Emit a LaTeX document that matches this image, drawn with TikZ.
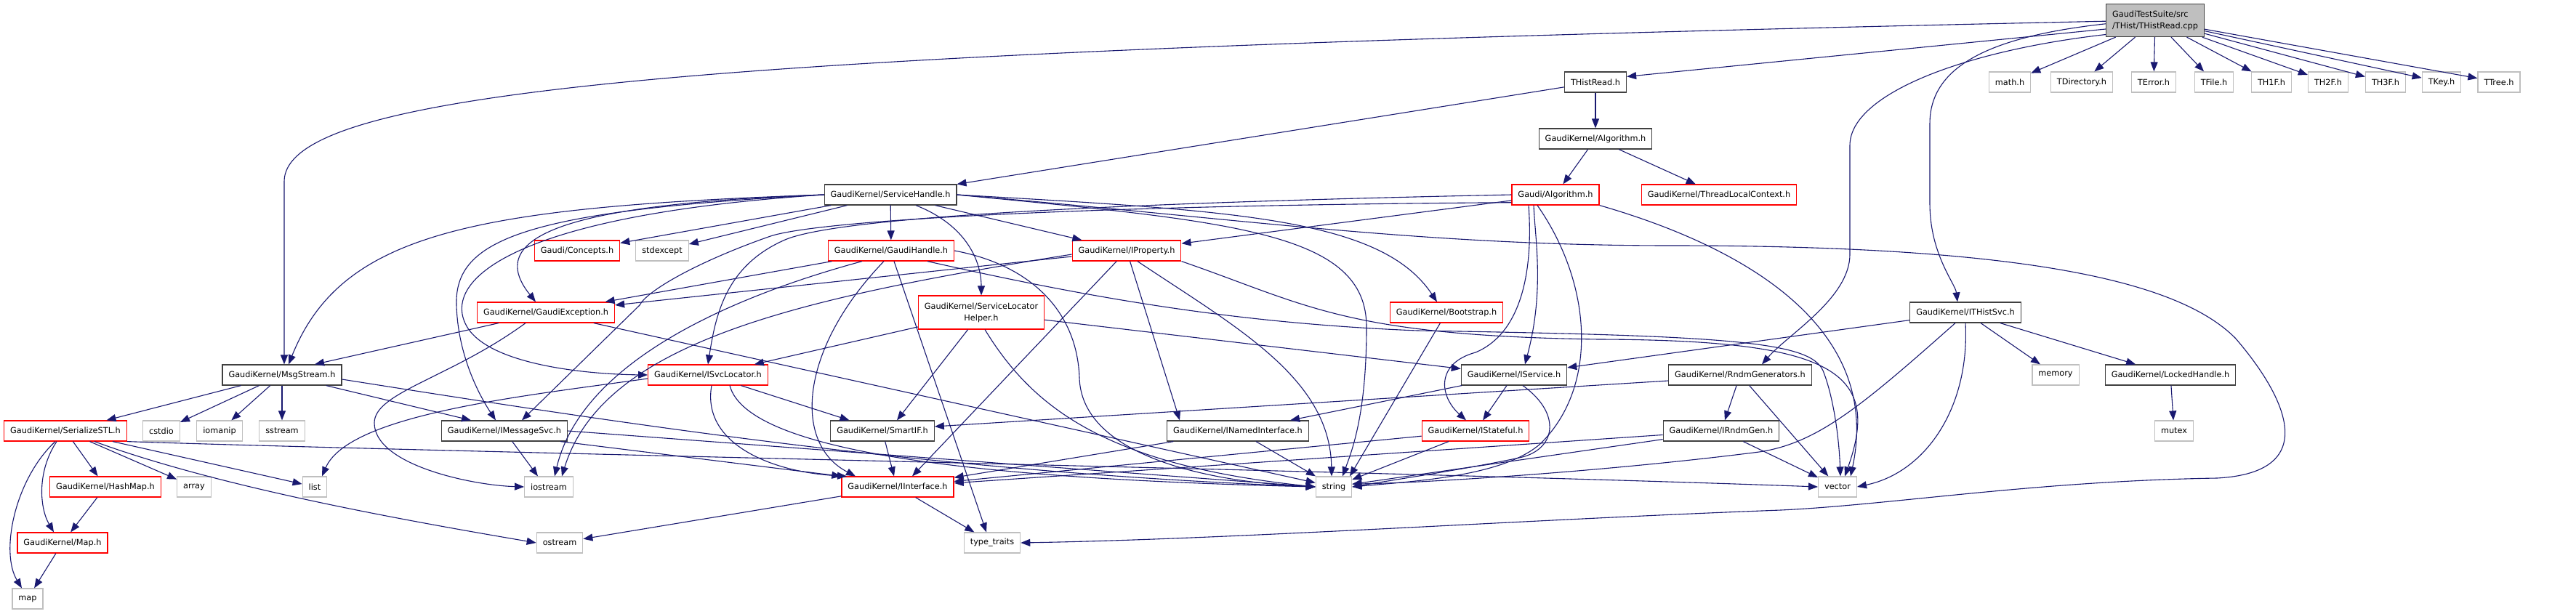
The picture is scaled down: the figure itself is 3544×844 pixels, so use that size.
\documentclass[tikz,border=0pt]{standalone}
\usepackage{fontspec}
\setmainfont{DejaVu Sans}
\usetikzlibrary{arrows.meta}
\definecolor{depblue}{HTML}{191970}
\definecolor{redline}{HTML}{FF0000}
\definecolor{greyline}{HTML}{BFBFBF}
\definecolor{darkline}{HTML}{404040}

\begin{document}
\begin{tikzpicture}[
  x=1pt, y=-1pt,
  box/.style={draw, line width=1.2pt, minimum height=28pt, inner xsep=8.5pt,
    font=\fontsize{11.3pt}{16pt}\selectfont},
  docbox/.style={box, draw=darkline},
  redbox/.style={box, draw=redline},
  sysbox/.style={box, draw=greyline},
  dep/.style={-{Triangle[length=13pt,width=10pt]}, depblue, line width=1.1pt}
]
\path[fill=white, use as bounding box] (0,0) rectangle (3544,844);

\node[docbox, fill=greyline, align=left, minimum height=45pt] (root) at (2965,28) {GaudiTestSuite/src\\/THist/THistRead.cpp};

\node[docbox] (thread) at (2195,113) {THistRead.h};
\node[sysbox] (math) at (2765,113) {math.h};
\node[sysbox] (tdir) at (2864,113) {TDirectory.h};
\node[sysbox] (terr) at (2963,113) {TError.h};
\node[sysbox] (tfile) at (3046,113) {TFile.h};
\node[sysbox] (th1f) at (3125,113) {TH1F.h};
\node[sysbox] (th2f) at (3203,113) {TH2F.h};
\node[sysbox] (th3f) at (3282,113) {TH3F.h};
\node[sysbox] (tkey) at (3359,113) {TKey.h};
\node[sysbox] (ttree) at (3438,113) {TTree.h};

\node[docbox] (kalg) at (2195,191) {GaudiKernel/Algorithm.h};

\node[docbox] (svch) at (1225,268) {GaudiKernel/ServiceHandle.h};
\node[redbox] (galg) at (2140,268) {Gaudi/Algorithm.h};
\node[redbox] (tlc) at (2365,268) {GaudiKernel/ThreadLocalContext.h};

\node[redbox] (concepts) at (794,345) {Gaudi/Concepts.h};
\node[sysbox] (stdexc) at (911,345) {stdexcept};
\node[redbox] (ghandle) at (1226,345) {GaudiKernel/GaudiHandle.h};
\node[redbox] (iprop) at (1550,345) {GaudiKernel/IProperty.h};

\node[redbox] (gexc) at (751,430) {GaudiKernel/GaudiException.h};
\node[redbox, align=center, minimum height=46pt] (slh) at (1350,430) {GaudiKernel/ServiceLocator\\Helper.h};
\node[redbox] (boot) at (1990,430) {GaudiKernel/Bootstrap.h};
\node[docbox] (ithist) at (2704,430) {GaudiKernel/ITHistSvc.h};

\node[docbox] (msg) at (388,516) {GaudiKernel/MsgStream.h};
\node[redbox] (isvc) at (974,516) {GaudiKernel/ISvcLocator.h};
\node[docbox] (iserv) at (2083,516) {GaudiKernel/IService.h};
\node[docbox] (rndm) at (2394,516) {GaudiKernel/RndmGenerators.h};
\node[sysbox] (memory) at (2828,516) {memory};
\node[docbox] (locked) at (2986,516) {GaudiKernel/LockedHandle.h};

\node[redbox] (serstl) at (90,593) {GaudiKernel/SerializeSTL.h};
\node[sysbox] (cstdio) at (222,593) {cstdio};
\node[sysbox] (iomanip) at (302,593) {iomanip};
\node[sysbox] (sstream) at (388,593) {sstream};
\node[docbox] (imsg) at (694,593) {GaudiKernel/IMessageSvc.h};
\node[docbox] (smartif) at (1214,593) {GaudiKernel/SmartIF.h};
\node[docbox] (inamed) at (1703,593) {GaudiKernel/INamedInterface.h};
\node[redbox] (istate) at (2030,593) {GaudiKernel/IStateful.h};
\node[docbox] (irndm) at (2368,593) {GaudiKernel/IRndmGen.h};
\node[sysbox] (mutex) at (2991,593) {mutex};

\node[redbox] (hashmap) at (145,670) {GaudiKernel/HashMap.h};
\node[sysbox] (array) at (267,670) {array};
\node[sysbox] (list) at (433,670) {list};
\node[sysbox] (ios) at (755,670) {iostream};
\node[redbox] (iint) at (1235,670) {GaudiKernel/IInterface.h};
\node[sysbox] (str) at (1835,670) {string};
\node[sysbox] (vec) at (2528,670) {vector};

\node[redbox] (maph) at (86,747) {GaudiKernel/Map.h};
\node[sysbox] (ostr) at (770,747) {ostream};
\node[sysbox] (tt) at (1365,747) {type\_traits};

\node[sysbox] (map) at (38,824) {map};

\draw[dep] (root.181) .. controls (1000,70) and (391,120) .. (391,250) -- ([xshift=3pt]msg.north);
\draw[dep] (root.190) -- (thread.10);
\draw[dep] (root.184) .. controls (2740,50) and (2655,90) .. (2655,170) -- (2655,280) .. controls (2655,350) and (2690,390) .. ([xshift=-11pt]ithist.north);
\draw[dep] (root.196) .. controls (2700,70) and (2545,130) .. (2545,200) -- (2545,350) .. controls (2545,410) and (2460,460) .. ([xshift=30pt]rndm.north);
\draw[dep] (root) -- (math);
\draw[dep] (root) -- (tdir);
\draw[dep] (root) -- (terr);
\draw[dep] (root) -- (tfile);
\draw[dep] (root) -- (th1f);
\draw[dep] (root) -- (th2f);
\draw[dep] (root) -- (th3f);
\draw[dep] (root) -- (tkey);
\draw[dep] (root) -- (ttree);

\draw[dep] (thread) -- (kalg);
\draw[dep] (thread) -- (svch);
\draw[dep] (kalg) -- (galg);
\draw[dep] (kalg) -- (tlc);

\draw[dep] (svch) -- (concepts);
\draw[dep] (svch) -- (stdexc);
\draw[dep] (svch) -- (ghandle);
\draw[dep] (svch) -- (iprop);
\draw[dep] ([xshift=35pt]svch.south) .. controls (1330,310) and (1350,360) .. (slh.north);
\draw[dep] (svch.west) .. controls (800,280) and (660,320) .. ([xshift=-14pt]gexc.north);
\draw[dep] (svch.west) .. controls (650,285) and (470,320) .. ([xshift=9pt]msg.north);
\draw[dep] (svch.west) .. controls (720,290) and (625,330) .. (628,420) .. controls (630,490) and (660,545) .. ([xshift=-12pt]imsg.north);
\draw[dep] (svch.west) .. controls (720,295) and (610,380) .. (640,445) .. controls (665,500) and (800,515) .. (isvc.west);
\draw[dep] (svch.east) .. controls (1700,290) and (1900,300) .. ([xshift=-13pt]boot.north);
\draw[dep] (svch.east) .. controls (1700,305) and (1880,320) .. (1880,450) .. controls (1880,570) and (1860,620) .. ([xshift=12pt]str.north);
\draw[dep] (svch.east) .. controls (1700,300) and (1950,338) .. (2300,338) .. controls (2800,338) and (3000,390) .. (3075,465) .. controls (3140,540) and (3200,650) .. (3050,658) .. controls (2800,662) and (2600,695) .. (2450,702) .. controls (2100,715) and (1700,742) .. (tt.east);

\draw[dep] (ghandle) -- (gexc);
\draw[dep] ([xshift=-40pt]ghandle.south) .. controls (1000,410) and (800,500) .. ([xshift=8pt]ios.north);
\draw[dep] ([xshift=-10pt]ghandle.south) .. controls (1100,480) and (1090,610) .. ([xshift=-58pt]iint.north);
\draw[dep] ([xshift=4pt]ghandle.south) -- ([xshift=-8pt]tt.north);
\draw[dep] (ghandle.east) .. controls (1420,365) and (1482,430) .. (1485,520) .. controls (1488,620) and (1640,662) .. (str.west);
\draw[dep] ([xshift=50pt]ghandle.south) .. controls (1500,410) and (1700,445) .. (1950,455) .. controls (2380,462) and (2490,470) .. (2508,510) .. controls (2522,545) and (2530,600) .. ([xshift=4pt]vec.north);

\draw[dep] (iprop) -- (gexc);
\draw[dep] ([yshift=-5pt]iprop.west) .. controls (1100,410) and (830,470) .. ([xshift=18pt]ios.north);
\draw[dep] (iprop) -- ([xshift=20pt]iint.north);
\draw[dep] (iprop) -- ([xshift=-80pt]inamed.north);
\draw[dep] ([xshift=15pt]iprop.south) .. controls (1700,450) and (1830,520) .. ([xshift=-3pt]str.north);
\draw[dep] (iprop.south east) .. controls (1800,420) and (1850,462) .. (2200,467) .. controls (2520,468) and (2590,510) .. ([xshift=10pt]vec.north);

\draw[dep] (galg) -- (iprop);
\draw[dep] (galg.west) .. controls (1500,280) and (1150,300) .. (1080,330) .. controls (1000,365) and (985,430) .. (isvc.north);
\draw[dep] (galg.190) .. controls (1450,283) and (1120,305) .. (1060,325) .. controls (960,360) and (890,400) .. (880,420) -- ([xshift=24pt]imsg.north);
\draw[dep] ([xshift=-30pt]galg.south) .. controls (2112,330) and (2125,400) .. ([xshift=15pt]iserv.north);
\draw[dep] ([xshift=-37pt]galg.south) .. controls (2110,380) and (2090,460) .. (2030,485) .. controls (1975,500) and (1980,545) .. ([xshift=-13pt]istate.north);
\draw[dep] ([xshift=-25pt]galg.south) .. controls (2190,390) and (2200,530) .. (2120,610) .. controls (2070,655) and (1950,662) .. (str.east);
\draw[dep] (galg.south east) .. controls (2400,340) and (2590,450) .. ([xshift=18pt]vec.north);

\draw[dep] (gexc) -- ([xshift=45pt]msg.north);
\draw[dep] ([xshift=-28pt]gexc.south) .. controls (620,520) and (515,540) .. (515,582) .. controls (515,640) and (650,668) .. (ios.west);
\draw[dep] (gexc) -- (str);

\draw[dep] (slh) -- (isvc);
\draw[dep] (slh) -- ([xshift=20pt]smartif.north);
\draw[dep] (slh) -- (iserv);
\draw[dep] ([xshift=5pt]slh.south) .. controls (1420,560) and (1520,640) .. (str.west);

\draw[dep] (boot) -- ([xshift=22pt]str.north);

\draw[dep] (ithist) -- (iserv);
\draw[dep] ([xshift=-14pt]ithist.south) .. controls (2560,560) and (2500,610) .. (2420,622) .. controls (2200,650) and (1950,665) .. ([yshift=4pt]str.east);
\draw[dep] (ithist.south) .. controls (2710,560) and (2650,650) .. (vec.east);
\draw[dep] (ithist) -- (memory);
\draw[dep] (ithist) -- (locked);
\draw[dep] (locked) -- (mutex);

\draw[dep] (msg) -- (serstl);
\draw[dep] (msg) -- (cstdio);
\draw[dep] (msg) -- (iomanip);
\draw[dep] (msg) -- (sstream);
\draw[dep] (msg) -- ([xshift=-46pt]imsg.north);
\draw[dep] ([yshift=-6pt]msg.east) .. controls (900,590) and (1300,650) .. (str.west);

\draw[dep] ([yshift=-5pt]isvc.west) .. controls (720,545) and (480,570) .. ([xshift=10pt]list.north);
\draw[dep] (isvc) -- (smartif);
\draw[dep] ([xshift=5pt]isvc.south) .. controls (965,610) and (1060,650) .. ([xshift=-70pt]iint.north);
\draw[dep] ([xshift=30pt]isvc.south) .. controls (1030,630) and (1400,660) .. (str.west);

\draw[dep] (imsg) -- ([xshift=-15pt]ios.north);
\draw[dep] ([xshift=-10pt]imsg.south east) -- (iint.north west);
\draw[dep] (imsg.east) -- (str.west);

\draw[dep] (smartif) -- ([xshift=-5pt]iint.north);
\draw[dep] (inamed) -- (iint);
\draw[dep] (inamed) -- (str);

\draw[dep] (iserv) -- (inamed);
\draw[dep] (iserv) -- (istate);
\draw[dep] ([xshift=12pt]iserv.south) .. controls (2150,570) and (2140,620) .. (2090,630) .. controls (2020,645) and (1920,660) .. (str.east);

\draw[dep] (istate) -- (iint);
\draw[dep] (istate) -- (str);

\draw[dep] (rndm) -- (irndm);
\draw[dep] ([yshift=-8pt]rndm.west) -- ([yshift=6pt]smartif.east);
\draw[dep] (rndm) -- (vec);

\draw[dep] (irndm) -- (iint);
\draw[dep] (irndm) -- (str);
\draw[dep] (irndm) -- (vec);

\draw[dep] (serstl) -- (hashmap);
\draw[dep] ([xshift=-12pt]serstl.south) .. controls (50,650) and (55,700) .. ([xshift=-12pt]maph.north);
\draw[dep] ([xshift=-14pt]serstl.south) .. controls (20,660) and (0,760) .. ([xshift=-8pt]map.north);
\draw[dep] (serstl) -- (array);
\draw[dep] (serstl) -- (list);
\draw[dep] ([xshift=40pt]serstl.south) .. controls (300,670) and (550,715) .. (ostr.west);
\draw[dep] (serstl.south east) .. controls (600,622) and (1900,648) .. (vec.west);

\draw[dep] (hashmap) -- (maph);
\draw[dep] (maph) -- (map);

\draw[dep] (iint) -- (tt);
\draw[dep] (iint) -- (ostr);
\end{tikzpicture}
\end{document}
